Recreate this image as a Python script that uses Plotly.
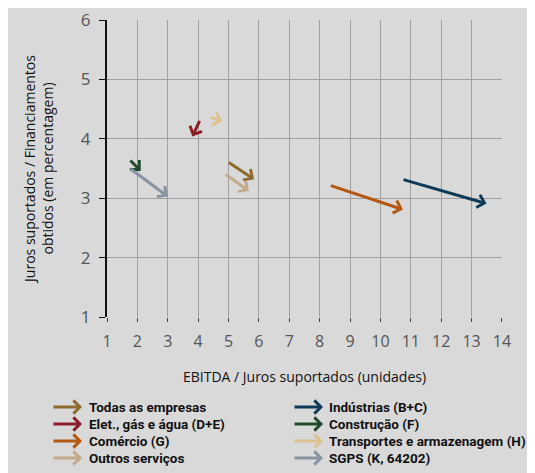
import plotly.graph_objects as go

# Series: start (x0, y0) -> end (x1, y1)
series = ["Todas as empresas", "Elet., gás e água (D+E)", "Comércio (G)", "Outros serviços",
          "Indústrias (B+C)", "Construção (F)", "Transportes e armazenagem (H)", "SGPS (K, 64202)"]
x_start = [4.96, 4.07, 8.32, 4.86, 10.71, 1.72, 4.35, 1.73]
y_start = [3.62, 4.33, 3.22, 3.42, 3.32, 3.66, 4.37, 3.51]
x_end = [5.84, 3.81, 10.74, 5.67, 13.49, 2.11, 4.80, 3.00]
y_end = [3.32, 4.04, 2.81, 3.12, 2.91, 3.46, 4.30, 3.03]
colors = ["#8c6b2d", "#8b1c26", "#b4570f", "#c3aa8b", "#0d3b57", "#1f4a2b", "#dcc28c", "#8994a2"]

x_ticks = list(range(1, 15))
y_ticks = list(range(1, 7))

fig = go.Figure()
fig.add_trace(go.Scatter(x=x_start + x_end, y=y_start + y_end, mode="markers",
                         marker=dict(opacity=0), hoverinfo="skip", showlegend=False))

for i, name in enumerate(series):
    fig.add_annotation(x=x_end[i], y=y_end[i], ax=x_start[i], ay=y_start[i],
                       xref="x", yref="y", axref="x", ayref="y",
                       showarrow=True, arrowhead=4, arrowsize=0.85, arrowwidth=3,
                       arrowcolor=colors[i], text="")

# Legend built from annotations (two columns, four rows); positions relative to plot area
W, H = 395.0, 297.0
row_y = [407, 424, 441, 458]
col_tip = [82, 323]
col_text = [87, 327]
for i, name in enumerate(series):
    col = i // 4
    row = i % 4
    py = -(row_y[row] - 317) / H
    px_tip = (col_tip[col] - 107) / W
    px_text = (col_text[col] - 107) / W
    fig.add_annotation(x=px_tip, y=py, xref="paper", yref="paper",
                       ax=-30, ay=0, axref="pixel", ayref="pixel",
                       showarrow=True, arrowhead=4, arrowsize=0.85, arrowwidth=3,
                       arrowcolor=colors[i], text="")
    fig.add_annotation(x=px_text, y=py, xref="paper", yref="paper",
                       showarrow=False, text="<b>" + name + "</b>",
                       xanchor="left", yanchor="middle",
                       font=dict(family="Roboto", size=13.5, color="#111"))

fig.update_layout(
    width=535, height=473,
    margin=dict(l=99, r=41, t=12, b=164, autoexpand=False),
    paper_bgcolor="#d9d9d9", plot_bgcolor="#d9d9d9",
    font=dict(family="Open Sans", color="#111"),
    showlegend=False,
    xaxis=dict(range=[1, 14.002], tickvals=x_ticks, showgrid=True, gridcolor="#a0a0a0", gridwidth=1.3,
               zeroline=False, showline=False, ticks="outside", ticklen=4, tickcolor="#444",
               tickfont=dict(size=16, color="#555"), automargin=False, ticklabelstandoff=6,
               title=dict(text="EBITDA / Juros suportados (unidades)", font=dict(size=14, color="#111"),
                          standoff=20)),
    yaxis=dict(range=[1, 6.002], tickvals=y_ticks, showgrid=True, gridcolor="#a0a0a0", gridwidth=1.3,
               zeroline=False, showline=True, linecolor="#111", linewidth=2,
               ticks="outside", ticklen=6, tickcolor="#111", automargin=False, ticklabelstandoff=5,
               tickfont=dict(size=17, color="#555"),
               title=dict(text="Juros suportados / Financiamentos<br>obtidos (em percentagem)",
                          font=dict(size=14, color="#111"), standoff=24)),
)

fig.write_html("out.html")
